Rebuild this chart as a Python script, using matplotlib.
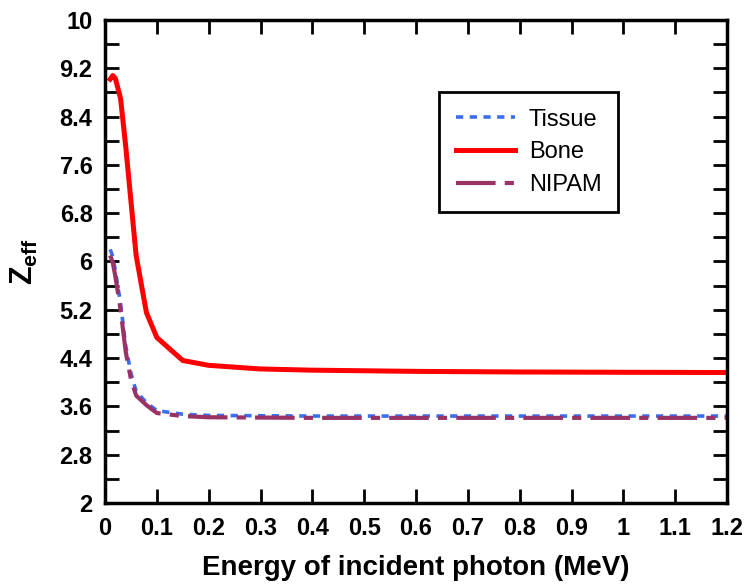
import matplotlib
matplotlib.use("Agg")
import matplotlib.pyplot as plt
from matplotlib.ticker import MultipleLocator

plt.rcParams["font.family"] = ["Liberation Sans", "DejaVu Sans"]
plt.rcParams["font.weight"] = "bold"
plt.rcParams["mathtext.fontset"] = "custom"
plt.rcParams["mathtext.rm"] = "Liberation Sans:bold"
plt.rcParams["mathtext.bf"] = "Liberation Sans:bold"

# photon energy (MeV)
energy = [0.01, 0.015, 0.02, 0.03, 0.04, 0.05, 0.06, 0.08, 0.1, 0.15,
          0.2, 0.3, 0.4, 0.5, 0.6, 0.8, 1.0, 1.25]
bone = [9.02, 9.08, 9.03, 8.70, 7.90, 7.00, 6.10, 5.15, 4.74, 4.36,
        4.28, 4.22, 4.20, 4.19, 4.18, 4.17, 4.165, 4.16]
tissue = [6.20, 6.08, 5.85, 5.30, 4.60, 4.15, 3.85, 3.66, 3.53, 3.47,
          3.45, 3.445, 3.44, 3.44, 3.44, 3.44, 3.44, 3.44]
nipam = [6.10, 5.98, 5.75, 5.20, 4.50, 4.05, 3.78, 3.62, 3.49, 3.44,
         3.42, 3.415, 3.41, 3.41, 3.41, 3.41, 3.41, 3.41]

xticks = [0, 0.1, 0.2, 0.3, 0.4, 0.5, 0.6, 0.7, 0.8, 0.9, 1, 1.1, 1.2]
xticklabels = ["0", "0.1", "0.2", "0.3", "0.4", "0.5", "0.6", "0.7",
               "0.8", "0.9", "1", "1.1", "1.2"]
yticks = [2, 2.8, 3.6, 4.4, 5.2, 6, 6.8, 7.6, 8.4, 9.2, 10]
yticklabels = ["2", "2.8", "3.6", "4.4", "5.2", "6", "6.8", "7.6",
               "8.4", "9.2", "10"]

fig = plt.figure(figsize=(7.48, 5.84), dpi=100)
ax = fig.add_axes([0.1404, 0.1387, 0.972 - 0.1404, 0.9658 - 0.1387])

ax.plot(energy, tissue, color="#3a6ef0", lw=2.6, ls=(0, (2.0, 1.8)), label="Tissue")
ax.plot(energy, bone, color="#ff0000", lw=3.6, label="Bone")
ax.plot(energy, nipam, color="#993366", lw=3.0, ls=(0, (9.5, 2.2, 2.2, 2.2)), label="NIPAM")

ax.set_xlim(0, 1.2)
ax.set_ylim(2, 10)
ax.yaxis.set_minor_locator(MultipleLocator(0.4))
ax.set_xticks(xticks)
ax.set_xticklabels(xticklabels)
ax.set_yticks(yticks)
ax.set_yticklabels(yticklabels)
ax.tick_params(which="both", direction="in", top=True, right=True,
               length=10, width=2, labelsize=17)
ax.tick_params(axis="y", pad=9)
ax.tick_params(axis="x", pad=10)

for s in ax.spines.values():
    s.set_linewidth(2.5)

ax.set_xlabel("Energy of incident photon (MeV)", fontsize=20, fontweight="bold", labelpad=11)
ax.set_ylabel(r"$\mathbf{Z_{eff}}$", fontsize=22, labelpad=14)

leg = fig.legend(*ax.get_legend_handles_labels(), loc="upper left",
                 bbox_to_anchor=(439 / 748, 1 - 92 / 584), fontsize=17,
                 frameon=True, fancybox=False, edgecolor="black",
                 framealpha=1, handlelength=2.5, borderpad=0.7,
                 labelspacing=0.45, handletextpad=0.6, borderaxespad=0)
leg.get_frame().set_linewidth(2)
for t in leg.get_texts():
    t.set_fontweight("normal")

fig.savefig("out.png", dpi=100)
